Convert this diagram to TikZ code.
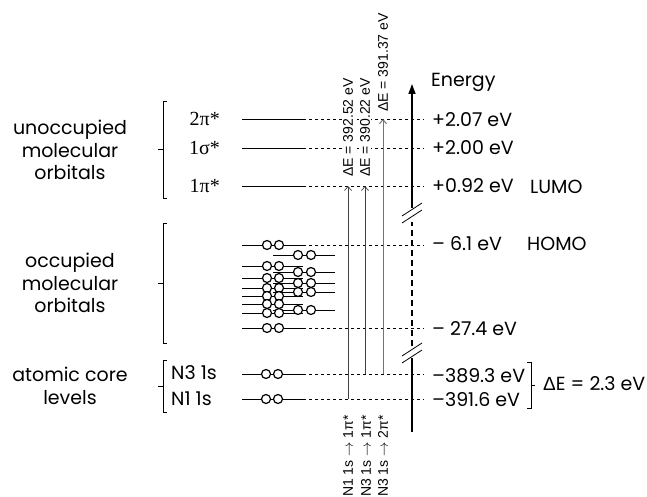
\documentclass[tikz,border=0pt]{standalone}
\usepackage{fontspec}
\setmainfont{Poppins}
\newfontfamily\arialf{Liberation Sans}
\newfontfamily\timesf{Liberation Serif}
\usetikzlibrary{arrows.meta, calc}

\begin{document}
\begin{tikzpicture}[x=1pt, y=-1pt, >={Straight Barb[length=4pt, width=7pt]}, every node/.style={font=\fontsize{19}{22.5}\selectfont, inner sep=1pt}]
\tikzset{
  lvl/.style={line width=0.8pt},
  ext/.style={line width=0.7pt, dash pattern=on 3pt off 3pt},
  elec/.style={circle, draw, line width=1.2pt, minimum size=9pt, inner sep=0pt, fill=white},
  orb/.style={font=\timesf\fontsize{20}{22}\selectfont, anchor=east},
  val/.style={anchor=west, fill=white},
  trans/.style={->, line width=0.7pt, black!75},
  dlab/.style={font=\arialf\fontsize{14}{16}\selectfont, rotate=90, fill=white, inner sep=1pt},
  brk/.style={line width=0.8pt},
  axis/.style={line width=1.5pt},
}
\useasboundingbox (0,0) rectangle (647,497);
% group labels and brackets
\node[align=center] (unocc) at (70,150) {unoccupied\\molecular\\orbitals};
\node[align=center] (occ) at (70,283) {occupied\\molecular\\orbitals};
\node[align=center] (core) at (70,386) {atomic core\\levels};
\foreach \t/\b in {101/198, 223/343, 360/412} {
  \draw[lvl] (167,\t) -- (163,\t) -- (163,\b) -- (167,\b);
  \draw[lvl] (163,{(\t+\b)/2}) -- (158,{(\t+\b)/2});
}
% unoccupied levels
\foreach \y/\n/\t in {119/upi2/2π*, 148/usig1/1σ*, 186/upi1/1π*} {
  \node[orb] (l\n) at (221,\y) {\t};
  \draw[lvl] (242,\y) -- (303,\y) coordinate (\n);
  \draw[ext] (\n) -- (424,\y);
}
% occupied levels
\foreach \y in {245,266,278,288,296,304,313,328}
  \draw[lvl] (242,\y) -- (303,\y);
\foreach \y in {255,272,283,292,310}
  \draw[lvl] (273,\y) -- (335,\y);
\foreach \y in {245,266,278,288,296,304,313,328} {
  \node[elec] at (267,\y) {};
  \node[elec] at (279,\y) {};
}
\foreach \y in {255,272,283,292,310} {
  \node[elec] at (298,\y) {};
  \node[elec] at (311,\y) {};
}
% core levels
\node[anchor=west] (ln3) at (170,373) {N3 1s};
\node[anchor=west] (ln1) at (170,399) {N1 1s};
\foreach \y in {374,399} {
  \draw[lvl] (242,\y) -- (303,\y);
  \node[elec] at (266,\y) {};
  \node[elec] at (278,\y) {};
}
\foreach \y in {245,328,374,399}
  \draw[ext] (303,\y) -- (424,\y);
% energy axis with breaks
\draw[axis] (412,432) -- (412,358);
\draw[axis, dash pattern=on 6pt off 4pt] (412,346) -- (412,222);
\draw[axis, -{Triangle[length=10pt, width=7pt]}] (412,208) -- (412,84);
\foreach \c in {210,350} {
  \draw[brk] (402,\c+6) -- (422,\c-7);
  \draw[brk] (402,\c+13) -- (422,\c);
}
\node[anchor=west] (energy) at (430,82) {Energy};
% transitions
\coordinate (a1) at (348,399); \coordinate (b1) at (348,186);
\coordinate (a2) at (365,374); \coordinate (b2) at (365,186);
\coordinate (a3) at (383,374); \coordinate (b3) at (383,119);
\draw[trans] (a1) -- (b1);
\draw[trans] (a2) -- (b2);
\draw[trans, line width=1pt, black!55] (a3) -- (b3);
\node[dlab, anchor=west] (dE1) at ($(b1)+(0,-8)$) {ΔE = 392.52 eV};
\node[dlab, anchor=west] (dE2) at ($(b2)+(0,-8)$) {ΔE = 390.22 eV};
\node[dlab, anchor=west] (dE3) at ($(b3)+(0,-6)$) {ΔE = 391.37 eV};
\node[dlab, anchor=east, fill=none] (t1) at (348,414) {N1 1s $\rightarrow$ 1π*};
\node[dlab, anchor=east, fill=none] (t2) at (366,414) {N3 1s $\rightarrow$ 1π*};
\node[dlab, anchor=east, fill=none] (t3) at (383,414) {N3 1s $\rightarrow$ 2π*};
% energy values
\foreach \y/\t in {120/+2.07 eV, 148/+2.00 eV, 186/+0.92 eV, 244/– 6.1 eV, 329/– 27.4 eV, 376/–389.3 eV, 400/–391.6 eV}
  \node[val] at (431,\y) {\t};
\node[anchor=west] (lumo) at (529,187) {LUMO};
\node[anchor=west] (homo) at (526,244) {HOMO};
\draw[lvl] (527,362) -- (531,362) -- (531,408) -- (527,408);
\draw[lvl] (531,385) -- (535,385);
\node[anchor=west] (dEc) at (542,384) {{\arialf Δ}E = 2.3 eV};
\end{tikzpicture}
\end{document}
